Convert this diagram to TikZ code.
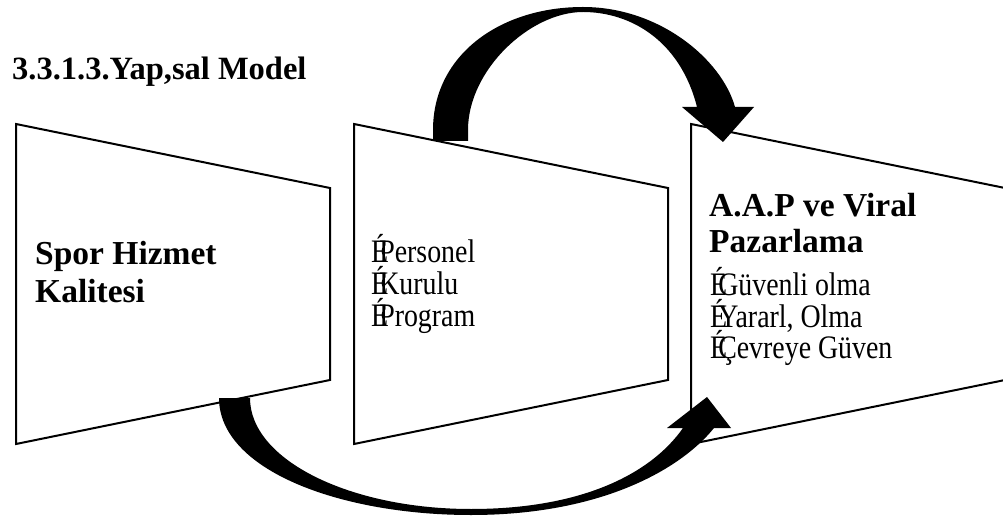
\documentclass[tikz,border=0pt]{standalone}
\usepackage{fontspec}
\setmainfont{Liberation Serif}
\newfontfamily\condserif[FakeStretch=0.85]{Liberation Serif}
\newcommand\mybul{É\kern-9pt}
\begin{document}
\begin{tikzpicture}[x=1pt,y=-1pt,
  panel/.style={draw=black,line width=2pt,fill=white,line join=miter},
  blockarrow/.style={fill=black,draw=none},
  titletext/.style={font=\bfseries\fontsize{32.5}{36}\selectfont,inner sep=0pt,anchor=base west},
  headtext/.style={font=\bfseries\fontsize{33.5}{37}\selectfont,inner sep=0pt,anchor=base west},
  itemtext/.style={font=\condserif\fontsize{32.8}{31}\selectfont,inner sep=0pt,anchor=base west}]
\useasboundingbox (0,0) rectangle (1003,518);
\fill[white] (0,0) rectangle (1003,518);
\clip (0,0) rectangle (1003,518);

% panels
\draw[panel] (16,124) coordinate (p1tl) -- (330,188) coordinate (p1tr) -- (330,380) coordinate (p1br) -- (16,444) coordinate (p1bl) -- cycle;
\draw[panel] (354,124) coordinate (p2tl) -- (668,188) coordinate (p2tr) -- (668,380) coordinate (p2br) -- (354,444) coordinate (p2bl) -- cycle;
\draw[panel] (691,124) coordinate (p3tl) -- (1005,188) coordinate (p3tr) -- (1005,380) coordinate (p3br) -- (691,444) coordinate (p3bl) -- cycle;

% top curved arrow (panel 2 -> panel 3)
\fill[blockarrow] (433,141) -- (433,130) .. controls (433,55) and (500,7) .. (583,7)
  .. controls (660,7) and (722,60) .. (735,107) -- (754,107) -- (723,142) -- (682,107) -- (697,107)
  .. controls (680,40) and (630,12) .. (583,12)
  .. controls (530,12) and (468,70) .. (468,130) -- (468,141) -- cycle;

% bottom curved arrow (panel 1 -> panel 3)
\fill[blockarrow] (219,398) -- (250,398) .. controls (250,460) and (350,509) .. (471,509)
  .. controls (580,509) and (650,475) .. (683,428) -- (667,428) -- (707,397) -- (731,428) -- (714,428)
  .. controls (680,470) and (600,515) .. (471,515)
  .. controls (340,515) and (219,470) .. (219,398) -- cycle;

% texts
\node[titletext] (title) at (12,80) {3.3.1.3.Yap,sal Model};
\node[headtext] (h1a) at (35,265) {Spor Hizmet};
\node[headtext] (h1b) at (35,302) {Kalitesi};
\node[itemtext] (i21) at (371,263) {\mybul Personel};
\node[itemtext] (i22) at (371,295) {\mybul Kurulu};
\node[itemtext] (i23) at (371,326.5) {\mybul Program};
\node[headtext] (h3a) at (709,216.5) {A.A.P ve Viral};
\node[headtext] (h3b) at (709,253) {Pazarlama};
\node[itemtext] (i31) at (710,296) {\mybul Güvenli olma};
\node[itemtext] (i32) at (710,327) {\mybul Yararl, Olma};
\node[itemtext] (i33) at (710,358) {\mybul Çevreye Güven};
\end{tikzpicture}
\end{document}
